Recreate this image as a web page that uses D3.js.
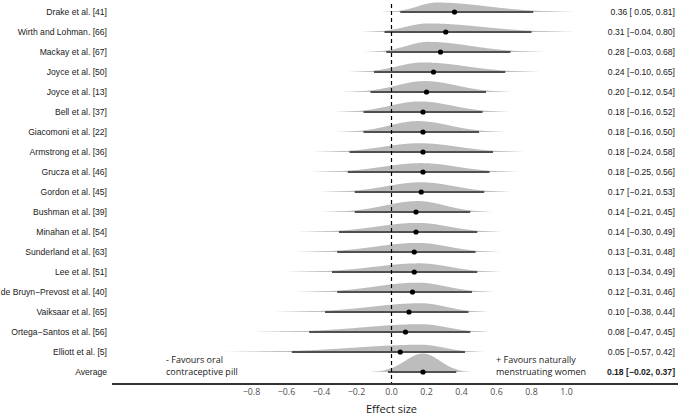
<!DOCTYPE html>
<html>
<head>
<meta charset="utf-8">
<script src="https://cdn.jsdelivr.net/npm/d3@7"></script>
<style>
  body { margin: 0; background: #fff; }
  svg { display: block; }
</style>
</head>
<body>
<svg width="678" height="417"></svg>
<script>
// studies, top to bottom
var studies = ["Drake et al. [41]", "Wirth and Lohman. [66]", "Mackay et al. [67]", "Joyce et al. [50]",
  "Joyce et al. [13]", "Bell et al. [37]", "Giacomoni et al. [22]", "Armstrong et al. [36]",
  "Grucza et al. [46]", "Gordon et al. [45]", "Bushman et al. [39]", "Minahan et al. [54]",
  "Sunderland et al. [63]", "Lee et al. [51]", "de Bruyn\u2212Prevost et al. [40]", "Vaiksaar et al. [65]",
  "Ortega\u2212Santos et al. [56]", "Elliott et al. [5]", "Average"];
var estimate = [0.36, 0.31, 0.28, 0.24, 0.20, 0.18, 0.18, 0.18, 0.18, 0.17, 0.14, 0.14, 0.13, 0.13, 0.12, 0.10, 0.08, 0.05, 0.18];
var lower = [0.05, -0.04, -0.03, -0.10, -0.12, -0.16, -0.16, -0.24, -0.25, -0.21, -0.21, -0.30, -0.31, -0.34, -0.31, -0.38, -0.47, -0.57, -0.02];
var upper = [0.81, 0.80, 0.68, 0.65, 0.54, 0.52, 0.50, 0.58, 0.56, 0.53, 0.45, 0.49, 0.48, 0.49, 0.46, 0.44, 0.45, 0.42, 0.37];
// where each posterior peaks
var peak = [0.26, 0.21, 0.21, 0.18, 0.19, 0.16, 0.15, 0.16, 0.17, 0.17, 0.15, 0.15, 0.15, 0.16, 0.15, 0.17, 0.17, 0.17, 0.18];
var xTicks = [-0.8, -0.6, -0.4, -0.2, 0.0, 0.2, 0.4, 0.6, 0.8, 1.0];

var svg = d3.select("svg");
var defs = svg.append("defs");

var x = d3.scaleLinear().domain([-0.8, 1.0]).range([251.5, 566.5]);
var y = d3.scalePoint().domain(studies).range([12, 372]);
var h = d3.scaleLinear().domain([0, 4]).range([0, 18.4]);

var fmt = d3.format(".2f");
function num(v) {
  var s = fmt(Math.abs(v));
  return (v < 0 ? "\u2212" : " ") + s;
}

// two-piece normal built from peak and interval
function slab(i) {
  var m = peak[i];
  var s1 = (m - lower[i]) / 1.96, s2 = (upper[i] - m) / 1.96;
  var top = 2 / (Math.sqrt(2 * Math.PI) * (s1 + s2));
  var lo = m - 3 * s1, hi = m + 2.8 * s2;
  var pts = d3.range(lo, hi, 0.004).concat([hi]).map(function(v) {
    var s = v < m ? s1 : s2;
    return [v, top * Math.exp(-0.5 * Math.pow((v - m) / s, 2))];
  });
  return {pts: pts, lo: lo, hi: hi};
}

var dens = d3.area()
  .x(function(d) { return x(d[0]); })
  .y0(0)
  .y1(function(d) { return -h(d[1]); })
  .curve(d3.curveBasis);

var rows = svg.append("g");
studies.forEach(function(name, i) {
  var s = slab(i);
  var g = rows.append("g").attr("transform", "translate(0," + y(name) + ")");

  var grad = defs.append("linearGradient")
    .attr("id", "fade" + i)
    .attr("gradientUnits", "userSpaceOnUse")
    .attr("x1", x(s.lo)).attr("x2", x(s.hi))
    .attr("y1", 0).attr("y2", 0);
  var span = s.hi - s.lo;
  grad.append("stop").attr("offset", 0).attr("stop-color", "#bdbdbd").attr("stop-opacity", 0);
  grad.append("stop").attr("offset", (lower[i] - s.lo) / span).attr("stop-color", "#bdbdbd").attr("stop-opacity", 1);
  grad.append("stop").attr("offset", (upper[i] - s.lo) / span).attr("stop-color", "#bdbdbd").attr("stop-opacity", 1);
  grad.append("stop").attr("offset", 1).attr("stop-color", "#bdbdbd").attr("stop-opacity", 0);

  g.append("path")
    .datum(s.pts)
    .attr("fill", "url(#fade" + i + ")")
    .attr("d", dens);
  // thin tail line under slab
  g.append("line")
    .attr("x1", x(s.lo)).attr("x2", x(s.hi))
    .attr("y1", -0.5).attr("y2", -0.5)
    .attr("stroke", "url(#fade" + i + ")")
    .attr("stroke-width", 1);

  g.append("line")
    .attr("x1", x(lower[i])).attr("x2", x(upper[i]))
    .attr("y1", 0).attr("y2", 0)
    .attr("stroke", "#505050")
    .attr("stroke-width", 1.8);
  g.append("circle")
    .attr("cx", x(estimate[i])).attr("cy", 0)
    .attr("r", 2.6)
    .attr("fill", "#000");
});

// zero line
svg.append("line")
  .attr("x1", x(0)).attr("x2", x(0))
  .attr("y1", 4).attr("y2", 384)
  .attr("stroke", "#000")
  .attr("stroke-width", 1.2)
  .attr("stroke-dasharray", "4,3");

// left labels
svg.append("g").selectAll("text")
  .data(studies)
  .enter().append("text")
  .attr("x", 107)
  .attr("y", function(d) { return y(d); })
  .attr("dy", "0.35em")
  .attr("text-anchor", "end")
  .attr("font-family", "Liberation Sans, Arial, sans-serif")
  .attr("font-size", 8.6)
  .attr("fill", "#1a1a1a")
  .text(function(d) { return d; });

// right labels
svg.append("g").selectAll("text")
  .data(studies)
  .enter().append("text")
  .attr("x", 675)
  .attr("y", function(d) { return y(d); })
  .attr("dy", "0.35em")
  .attr("text-anchor", "end")
  .attr("font-family", "Liberation Sans, Arial, sans-serif")
  .attr("font-size", 8.6)
  .attr("font-weight", function(d, i) { return d == "Average" ? "bold" : "normal"; })
  .attr("fill", "#1a1a1a")
  .text(function(d, i) { return fmt(estimate[i]) + " [" + num(lower[i]) + ", " + fmt(upper[i]) + "]"; });

// x axis
var axis = svg.append("g").attr("transform", "translate(0,384)");
axis.append("line")
  .attr("x1", 112).attr("x2", 678)
  .attr("stroke", "#333")
  .attr("stroke-width", 2.2);
axis.selectAll("text.tick")
  .data(xTicks)
  .enter().append("text")
  .attr("class", "tick")
  .attr("x", function(d) { return x(d); })
  .attr("y", 11)
  .attr("text-anchor", "middle")
  .attr("font-family", "Open Sans, sans-serif")
  .attr("font-size", 8.8)
  .attr("fill", "#4d4d4d")
  .text(function(d) { return d3.format(".1f")(d).replace("-", "\u2212"); });

svg.append("text")
  .attr("x", x(0))
  .attr("y", 413)
  .attr("text-anchor", "middle")
  .attr("font-family", "Open Sans, sans-serif")
  .attr("font-size", 11)
  .attr("fill", "#1a1a1a")
  .text("Effect size");

// favour notes
var notes = [
  {x: 166, lines: ["- Favours oral", "contraceptive pill"]},
  {x: 496, lines: ["+ Favours naturally", "menstruating women"]}
];
notes.forEach(function(n) {
  n.lines.forEach(function(t, j) {
    svg.append("text")
      .attr("x", n.x)
      .attr("y", 360 + j * 12)
      .attr("dy", "0.35em")
      .attr("font-family", "Open Sans, sans-serif")
      .attr("font-size", 9)
      .attr("fill", "#1a1a1a")
      .text(t);
  });
});
</script>
</body>
</html>
